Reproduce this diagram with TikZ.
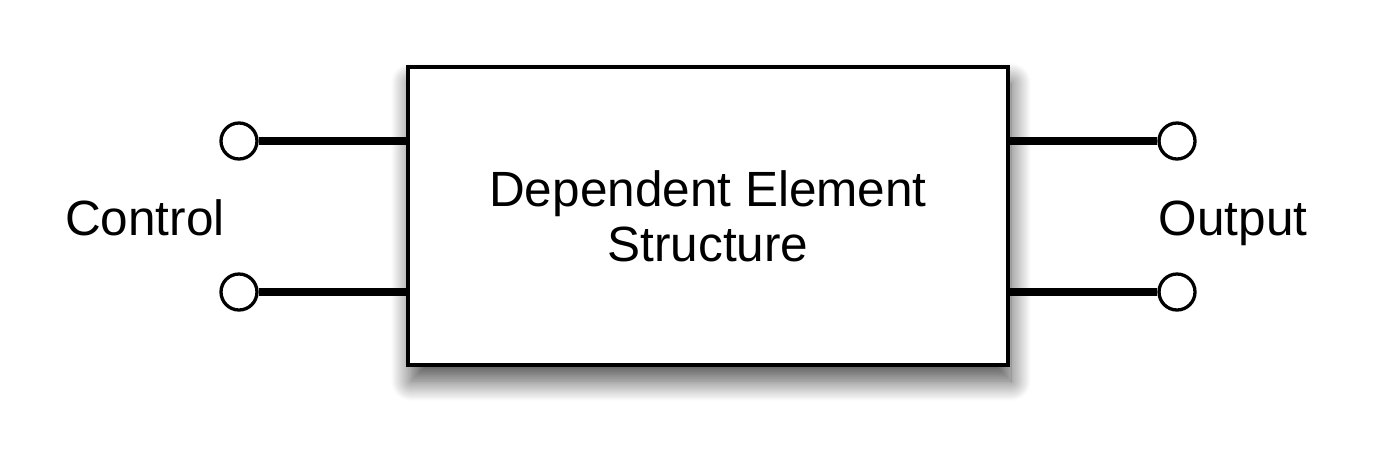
\documentclass[tikz,border=0pt]{standalone}
\usepackage{fontspec}
\setmainfont{Liberation Sans}
\usetikzlibrary{shadows.blur}
\begin{document}
\begin{tikzpicture}[x=1pt,y=-1pt,
  lbl/.style={font=\fontsize{49.5}{55}\selectfont, inner sep=0pt},
  term/.style={circle, draw=black, fill=white, line width=3.3pt, minimum size=36pt, inner sep=0pt},
  wire/.style={line width=8.5pt},
  blockbox/.style={draw=black, fill=white, line width=3.5pt, minimum width=600pt, minimum height=298pt,
    align=center, inner sep=0pt,
    blur shadow={shadow xshift=3pt, shadow yshift=-16pt, shadow blur radius=20pt, shadow opacity=70, shadow blur steps=25}}]
\useasboundingbox (0,0) rectangle (1375,467);
\node[blockbox, lbl] (box) at (708,216) {Dependent Element\\Structure};
\node[term] (c1) at (239,141) {};
\node[term] (c2) at (239,292) {};
\node[term] (o1) at (1177,141) {};
\node[term] (o2) at (1177,292) {};
\draw[wire] (c1.east) -- (c1.east -| box.west);
\draw[wire] (c2.east) -- (c2.east -| box.west);
\draw[wire] (o1.west) -- (o1.west -| box.east);
\draw[wire] (o2.west) -- (o2.west -| box.east);
\node[lbl, anchor=base] (ctl) at (145,235) {Control};
\node[lbl, anchor=base] (out) at (1233,235) {Output};
\end{tikzpicture}
\end{document}
